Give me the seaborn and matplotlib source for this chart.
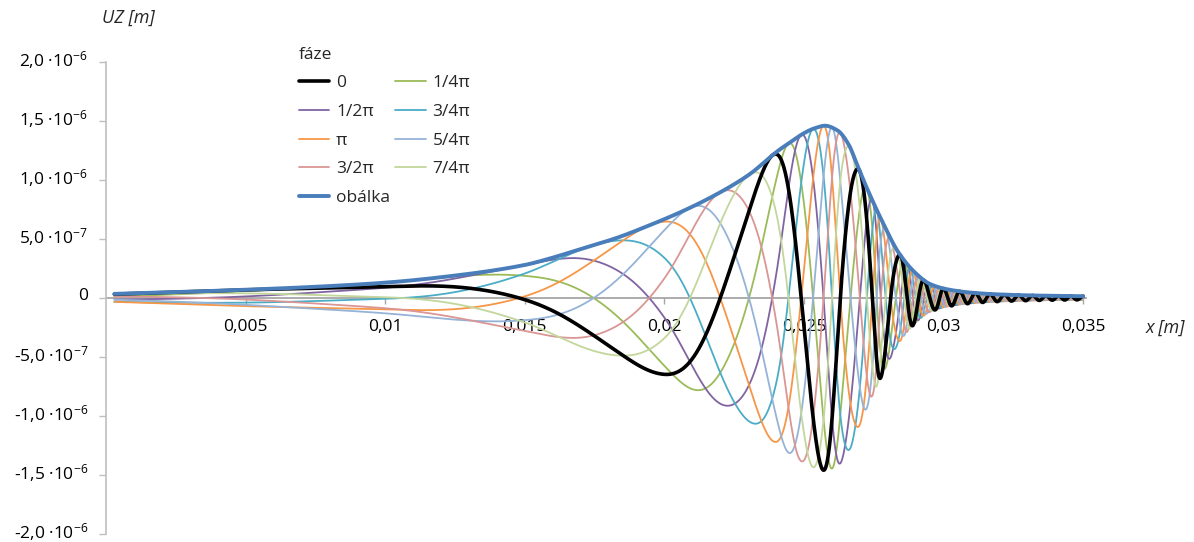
import numpy as np
import pandas as pd
import matplotlib
matplotlib.use("Agg")
import matplotlib.pyplot as plt
import matplotlib.transforms as mtransforms
import seaborn as sns
from matplotlib.lines import Line2D

# envelope (x in m, amplitude in 1e-6 m)
env_x = [0.0003, 0.0025, 0.005, 0.0075, 0.010, 0.0125, 0.015, 0.0159, 0.0170,
         0.0183, 0.0194, 0.0206, 0.0218, 0.0230, 0.0242, 0.0254, 0.02575,
         0.0262, 0.0266, 0.0269, 0.0272, 0.0278, 0.0284, 0.0290, 0.0295,
         0.0301, 0.0310, 0.0320, 0.0335, 0.0350]
env_y = [0.035, 0.05, 0.07, 0.095, 0.13, 0.19, 0.28, 0.335, 0.415,
         0.51, 0.61, 0.73, 0.87, 1.04, 1.27, 1.44, 1.46,
         1.42, 1.30, 1.13, 0.96, 0.65, 0.38, 0.21, 0.12,
         0.075, 0.045, 0.03, 0.02, 0.015]

# phase of the "0" curve read from its zero crossings / extrema (units of pi)
phase_x = [0.0003, 0.0040, 0.0080, 0.0112, 0.0148, 0.0200, 0.0220, 0.0240,
           0.0249, 0.0257, 0.0263, 0.0270, 0.02745, 0.02775, 0.0281, 0.02846,
           0.0289, 0.0293, 0.0297, 0.0300, 0.0310, 0.0320, 0.0335, 0.0350]
phase_pi = [-0.12, 0.02, 0.18, 0.27, 0.5, 1.08, 1.5, 2.05,
            2.5, 3.0, 3.5, 4.0, 4.5, 5.0, 5.5, 6.0,
            7.0, 8.0, 9.0, 10.0, 13.5, 17.3, 23.3, 30.0]

phase_labels = ["0", "1/4π", "1/2π", "3/4π", "π", "5/4π", "3/2π", "7/4π"]
phase_shift = [0, 0.25, 0.5, 0.75, 1.0, 1.25, 1.5, 1.75]
colors = ["#000000", "#9BBB59", "#8064A2", "#4BACC6", "#F79646",
          "#95B3D7", "#D99694", "#C3D69B"]
env_color = "#4A7EBB"


def pchip(xk, yk, x):
    xk = np.asarray(xk, float)
    yk = np.asarray(yk, float)
    h = np.diff(xk)
    d = np.diff(yk) / h
    m = np.zeros_like(yk)
    m[0], m[-1] = d[0], d[-1]
    for k in range(1, len(xk) - 1):
        if d[k - 1] * d[k] > 0:
            w1 = 2 * h[k] + h[k - 1]
            w2 = h[k] + 2 * h[k - 1]
            m[k] = (w1 + w2) / (w1 / d[k - 1] + w2 / d[k])
    i = np.clip(np.searchsorted(xk, x) - 1, 0, len(xk) - 2)
    t = (x - xk[i]) / h[i]
    return ((2 * t**3 - 3 * t**2 + 1) * yk[i] + (t**3 - 2 * t**2 + t) * h[i] * m[i]
            + (-2 * t**3 + 3 * t**2) * yk[i + 1] + (t**3 - t**2) * h[i] * m[i + 1])


xs = np.linspace(0.0003, 0.035, 6000)
env = pchip(env_x, env_y, xs) * 1e-6
theta = pchip(phase_x, phase_pi, xs) * np.pi

frames = []
for lab, sh in zip(phase_labels, phase_shift):
    frames.append(pd.DataFrame({"x": xs, "uz": env * np.cos(theta - sh * np.pi),
                                "faze": lab}))
df = pd.concat(frames, ignore_index=True)

sns.set_theme(style="white")
plt.rcParams["font.family"] = ["Open Sans", "DejaVu Sans"]
plt.rcParams["mathtext.fontset"] = "custom"
plt.rcParams["mathtext.rm"] = "Open Sans"
plt.rcParams["mathtext.it"] = "Open Sans:italic"

fig = plt.figure(figsize=(11.94, 5.42), dpi=100)
ax = fig.add_axes([106 / 1194, 1 - 534 / 542, 980 / 1194, 472 / 542])

pal = dict(zip(phase_labels, colors))
# colored phases first, black on top, envelope on top of everything
order = phase_labels[1:] + phase_labels[:1]
for lab in order:
    sub = df[df["faze"] == lab]
    sns.lineplot(data=sub, x="x", y="uz", color=pal[lab],
                 lw=2.6 if lab == "0" else 1.3, ax=ax, legend=False,
                 estimator=None, sort=False)
sns.lineplot(x=xs, y=env, color=env_color, lw=2.8, ax=ax, legend=False,
             estimator=None, sort=False)

ax.set_xlim(0, 0.0351)
ax.set_ylim(-2e-6, 2e-6)
ax.set_xlabel("")
ax.set_ylabel("")

for s in ["top", "right"]:
    ax.spines[s].set_visible(False)
ax.spines["left"].set_color("#BFBFBF")
ax.spines["left"].set_linewidth(1.2)
ax.spines["bottom"].set_position(("data", 0))
ax.spines["bottom"].set_color("#A6A6A6")
ax.spines["bottom"].set_linewidth(1.3)
ax.spines["bottom"].set_zorder(0)

xt = [0.005, 0.01, 0.015, 0.02, 0.025, 0.03, 0.035]
xt_labels = ["0,005", "0,01", "0,015", "0,02", "0,025", "0,03", "0,035"]
ax.set_xticks(xt)
ax.set_xticklabels(xt_labels)

yt = [-2e-6, -1.5e-6, -1e-6, -5e-7, 0, 5e-7, 1e-6, 1.5e-6, 2e-6]
yt_labels = ["-2,0 ·10$^{-6}$", "-1,5 ·10$^{-6}$", "-1,0 ·10$^{-6}$",
             "-5,0 ·10$^{-7}$", "0", "5,0 ·10$^{-7}$", "1,0 ·10$^{-6}$",
             "1,5 ·10$^{-6}$", "2,0 ·10$^{-6}$"]
ax.set_yticks(yt)
ax.set_yticklabels(yt_labels)

ax.tick_params(axis="x", direction="out", length=4, width=1, color="#A6A6A6",
               bottom=True, pad=11, labelsize=12.5, labelcolor="#000000")
ax.tick_params(axis="y", direction="out", length=5, width=1, color="#BFBFBF",
               left=True, pad=8, labelsize=12.5, labelcolor="#000000")

# the y labels sit a few pixels above their ticks in the original
lift = mtransforms.ScaledTranslation(0, 4 / 100, fig.dpi_scale_trans)
for t in ax.get_yticklabels():
    t.set_transform(t.get_transform() + lift)

fig.text(128 / 1194, 1 - 18 / 542, "UZ [m]", style="italic", fontsize=13,
         ha="center", va="center")
fig.text(1165 / 1194, 1 - 328 / 542, "x [m]", style="italic", fontsize=13,
         ha="center", va="center")

handles = []
for lab in ["0", "1/2π", "π", "3/2π"]:
    handles.append(Line2D([], [], color=pal[lab], lw=2.6 if lab == "0" else 1.3))
handles.append(Line2D([], [], color=env_color, lw=2.8))
for lab in ["1/4π", "3/4π", "5/4π", "7/4π"]:
    handles.append(Line2D([], [], color=pal[lab], lw=1.3))
labels = ["0", "1/2π", "π", "3/2π", "obálka", "1/4π", "3/4π", "5/4π", "7/4π"]
leg = fig.legend(handles, labels, title="fáze", ncol=2, frameon=False,
                 loc="upper left", bbox_to_anchor=(290 / 1194, 1 - 38 / 542),
                 fontsize=12.5, title_fontsize=12.5, handlelength=1.75,
                 handletextpad=0.4, columnspacing=0.3, labelspacing=0.72,
                 borderpad=0, alignment="left")

fig.savefig("out.png", dpi=100)
